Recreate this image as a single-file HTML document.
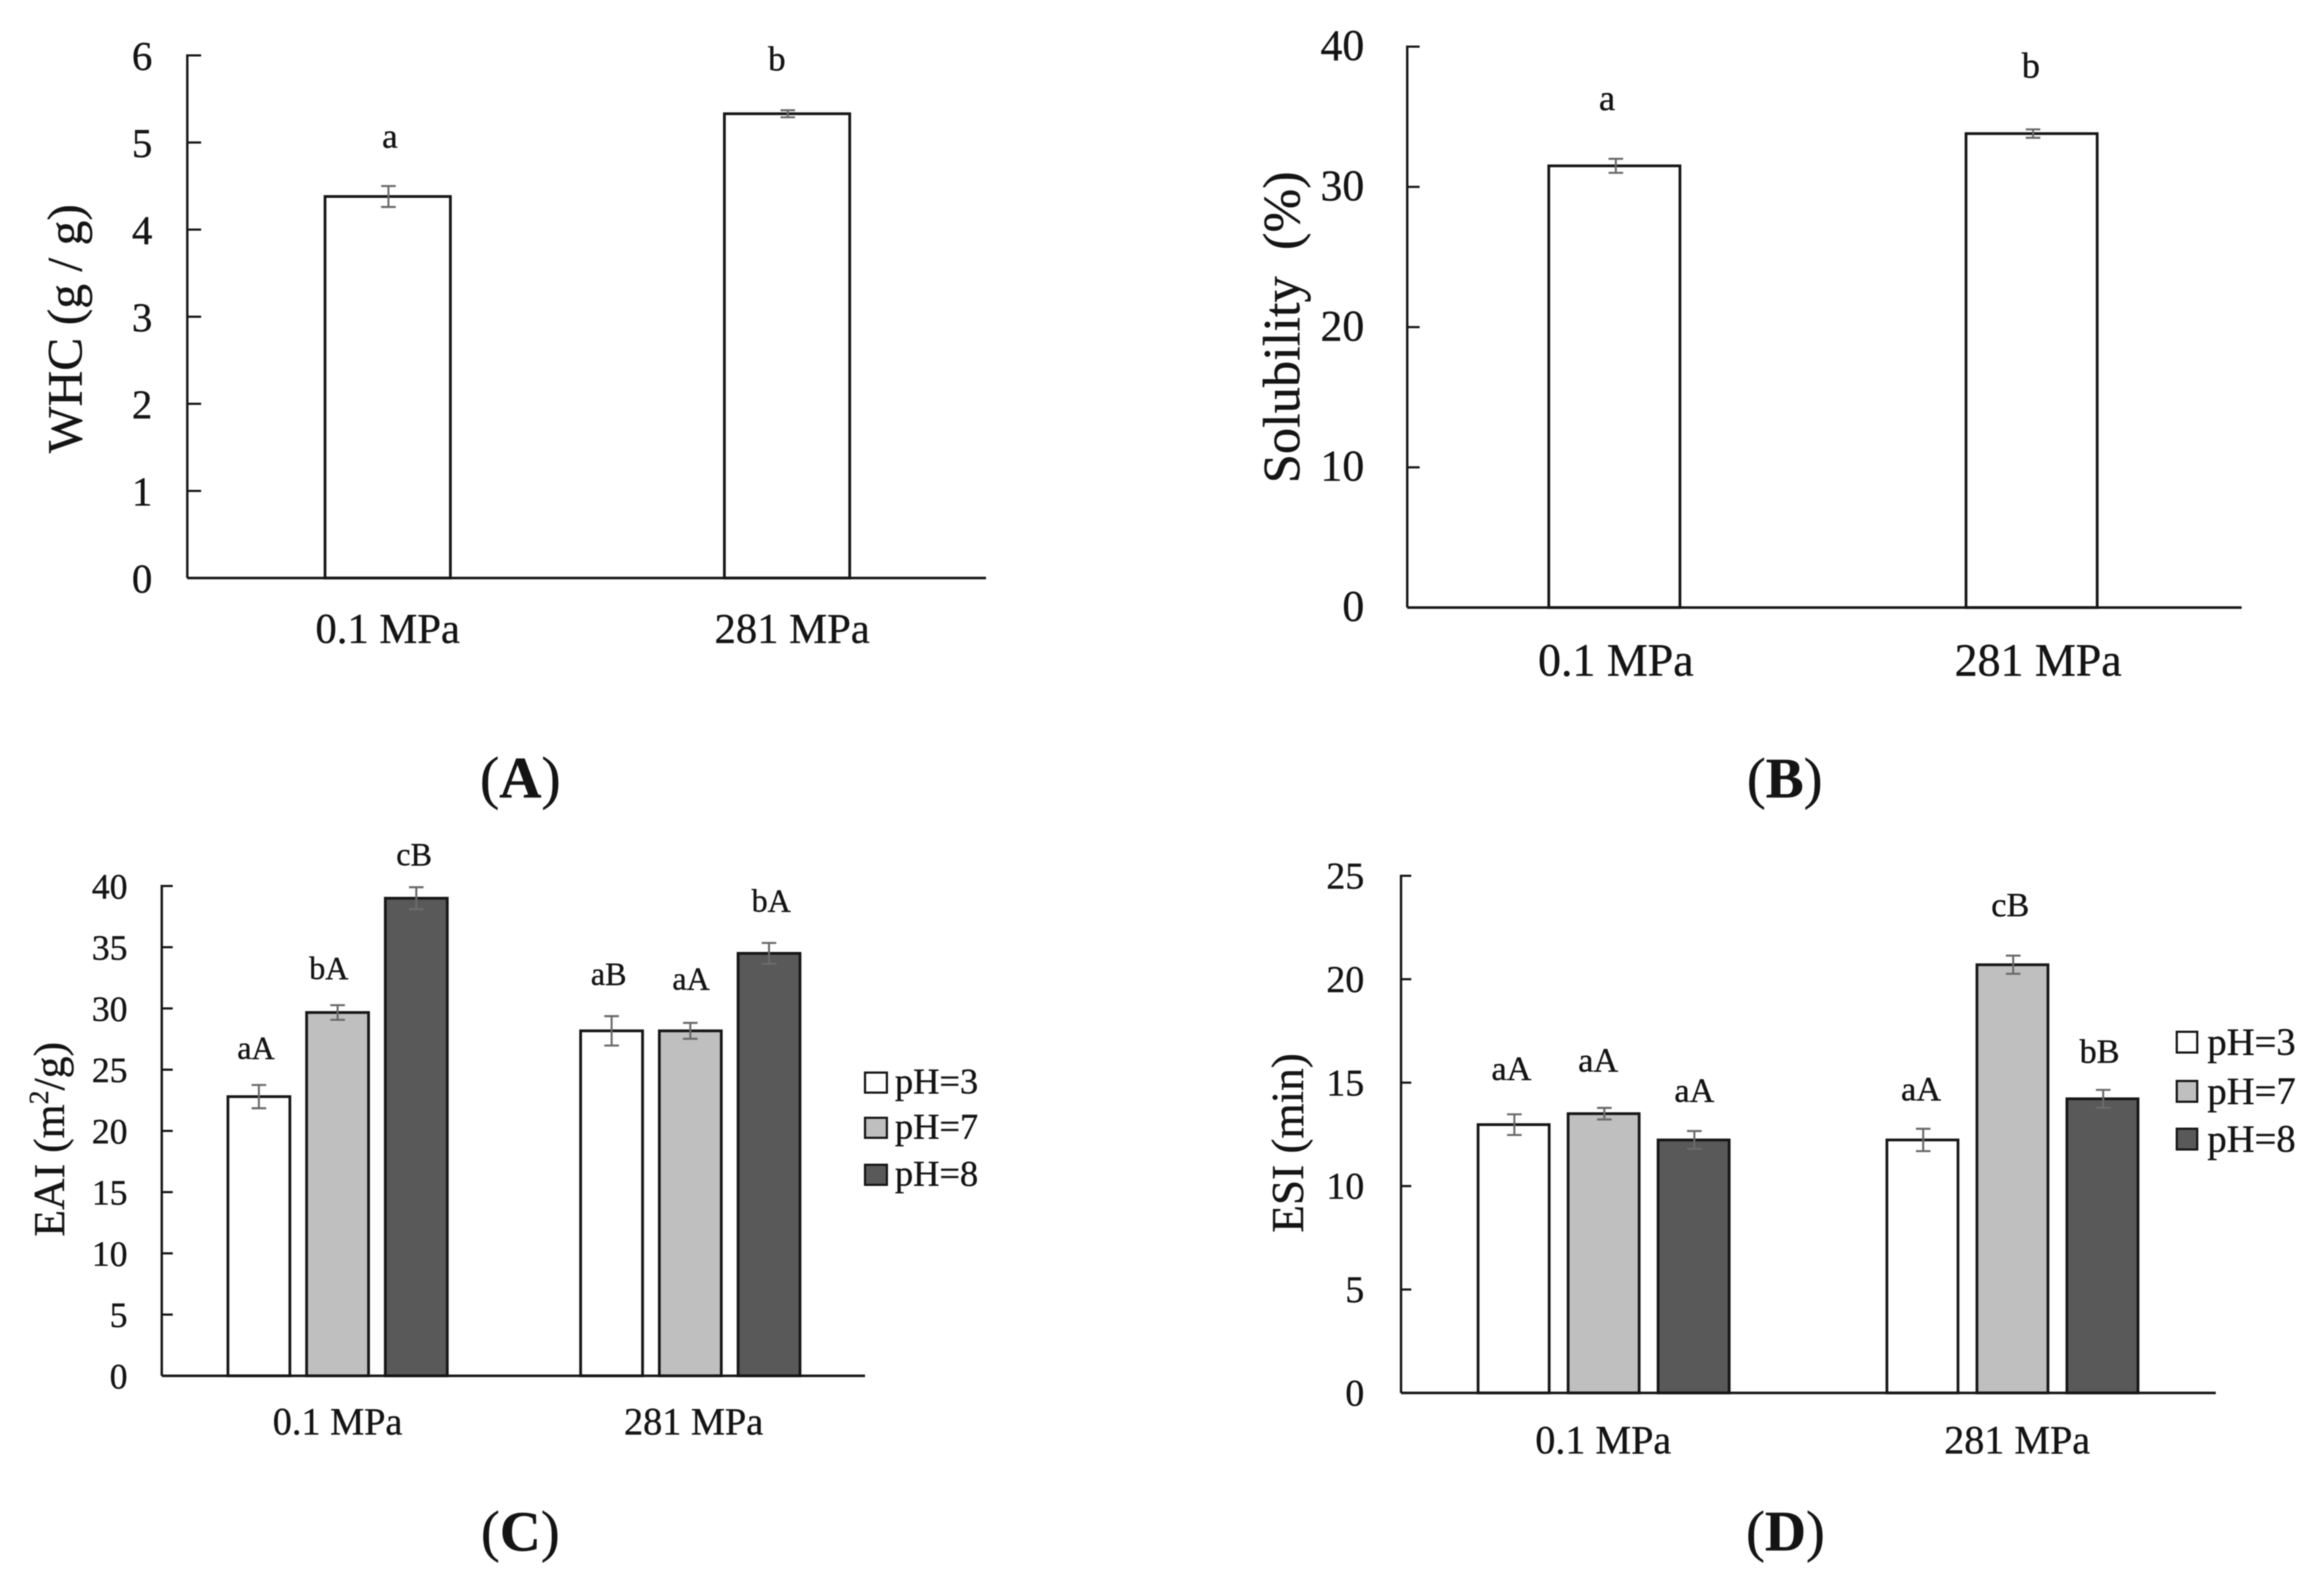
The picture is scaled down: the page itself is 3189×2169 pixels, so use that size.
<!DOCTYPE html>
<html lang="en">
<head>
<meta charset="utf-8">
<title>WHC, Solubility, EAI and ESI bar charts</title>
<style>
  html, body { margin: 0; padding: 0; background: #fff; }
  #figure { display: block; width: 3189px; height: 2169px; filter: blur(0.8px); }
  text { font-family: "Liberation Serif", "Times New Roman", serif; fill: #141414; stroke: #141414; stroke-width: 0.5px; }
</style>
</head>
<body>
<svg id="figure" xmlns="http://www.w3.org/2000/svg" width="3189" height="2169" viewBox="0 0 3189 2169">
  <rect x="0" y="0" width="3189" height="2169" fill="#ffffff"></rect>

  <g id="panel-a">
    <text transform="translate(112 451) rotate(-90)" text-anchor="middle" font-size="68">WHC (g / g)</text>
  </g>
  <g id="panel-b">
    <text transform="translate(1783 449) rotate(-90)" text-anchor="middle" font-size="72" xml:space="preserve">Solubility  (%)</text>
  </g>
  <g id="panel-c">
    <text transform="translate(88 1563) rotate(-90)" text-anchor="middle" font-size="60">EAI (m<tspan font-size="38" dy="-22">2</tspan><tspan dy="22">/g)</tspan></text>
  </g>
  <g id="panel-d">
    <text transform="translate(1788 1568) rotate(-90)" text-anchor="middle" font-size="62">ESI (min)</text>
  </g>

  <text x="714" y="1094" text-anchor="middle" font-size="80">(<tspan font-weight="bold">A</tspan>)</text>
  <text x="2449" y="1094" text-anchor="middle" font-size="78">(<tspan font-weight="bold">B</tspan>)</text>
  <text x="714" y="2127" text-anchor="middle" font-size="78">(<tspan font-weight="bold">C</tspan>)</text>
  <text x="2450" y="2127" text-anchor="middle" font-size="78">(<tspan font-weight="bold">D</tspan>)</text>
</svg>

<script>
// ---- Chart data ----
const pressureCategories = ['0.1 MPa', '281 MPa'];
const phSeriesNames = ['pH=3', 'pH=7', 'pH=8'];

const whcTicks = [0, 1, 2, 3, 4, 5, 6];
const whcValues = [[4.38, 5.33]];
const whcErrors = [[0.12, 0.04]];
const whcLetters = [['a', 'b']];

const solubilityTicks = [0, 10, 20, 30, 40];
const solubilityValues = [[31.5, 33.8]];
const solubilityErrors = [[0.5, 0.3]];
const solubilityLetters = [['a', 'b']];

const eaiTicks = [0, 5, 10, 15, 20, 25, 30, 35, 40];
const eaiPh3Values = [22.8, 28.17];
const eaiPh7Values = [29.67, 28.17];
const eaiPh8Values = [39.0, 34.5];
const eaiPh3Errors = [0.95, 1.2];
const eaiPh7Errors = [0.6, 0.65];
const eaiPh8Errors = [0.9, 0.85];
const eaiPh3Letters = ['aA', 'aB'];
const eaiPh7Letters = ['bA', 'aA'];
const eaiPh8Letters = ['cB', 'bA'];

const esiTicks = [0, 5, 10, 15, 20, 25];
const esiPh3Values = [12.97, 12.23];
const esiPh7Values = [13.5, 20.7];
const esiPh8Values = [12.23, 14.22];
const esiPh3Errors = [0.5, 0.54];
const esiPh7Errors = [0.28, 0.44];
const esiPh8Errors = [0.43, 0.43];
const esiPh3Letters = ['aA', 'aA'];
const esiPh7Letters = ['aA', 'cB'];
const esiPh8Letters = ['aA', 'bB'];

// ---- Rendering ----
const SVG_NS = 'http://www.w3.org/2000/svg';
const BAR_FILLS = ['#ffffff', '#bfbfbf', '#595959'];
const INK = '#161616';
const ERR_INK = '#6a6a6a';

function make(tag, attrs, parent, content) {
  const node = document.createElementNS(SVG_NS, tag);
  Object.keys(attrs).forEach(function (k) { node.setAttribute(k, attrs[k]); });
  if (content !== undefined) node.textContent = content;
  parent.appendChild(node);
  return node;
}

function drawPanel(panelId, cfg) {
  const root = document.getElementById(panelId);
  const yMax = cfg.ticks[cfg.ticks.length - 1];
  const yScale = function (v) { return cfg.y0 - (v / yMax) * (cfg.y0 - cfg.yTop); };
  const nCats = pressureCategories.length;
  const nSeries = cfg.values.length;
  const band = (cfg.right - cfg.left) / nCats;
  const groupCenter = function (c) { return cfg.left + band * (c + 0.5); };
  const xCenter = function (c, s) {
    return groupCenter(c) + (s - (nSeries - 1) / 2) * cfg.step + cfg.groupDx[c];
  };

  // bars, error bars, significance letters
  cfg.values.forEach(function (series, s) {
    series.forEach(function (value, c) {
      const cx = xCenter(c, s);
      const top = yScale(value);
      const bar = make('rect', {
        x: cx - cfg.barW / 2, y: top, width: cfg.barW, height: cfg.y0 - top,
        fill: BAR_FILLS[s], stroke: INK, 'stroke-width': 3.8
      }, root);
      
      

      const err = cfg.errors[s][c];
      const errX = cx + cfg.errDx;
      const hi = yScale(value + err);
      const lo = yScale(value - err);
      const d = 'M' + errX + ' ' + hi + 'V' + lo +
        'M' + (errX - cfg.cap) + ' ' + hi + 'H' + (errX + cfg.cap) +
        'M' + (errX - cfg.cap) + ' ' + lo + 'H' + (errX + cfg.cap);
      const whisker = make('path', { d: d, fill: 'none', stroke: ERR_INK, 'stroke-width': 2.8 }, root);
      
      

      const letter = make('text', {
        x: cx + cfg.letterDx[s][c],
        y: hi - cfg.letterGap[s][c],
        'text-anchor': 'middle',
        'font-size': cfg.letterSize
      }, root, cfg.letters[s][c]);
      
      
    });
  });

  // axes
  const yAxis = make('line', { x1: cfg.left, y1: cfg.yTop - 1.5, x2: cfg.left, y2: cfg.y0, stroke: INK, 'stroke-width': 3.3 }, root);
  
  
  const xAxis = make('line', { x1: cfg.left, y1: cfg.y0, x2: cfg.right, y2: cfg.y0, stroke: INK, 'stroke-width': 3.5 }, root);
  
  

  cfg.ticks.forEach(function (t) {
    const ty = yScale(t);
    const tick = make('line', { x1: cfg.left, y1: ty, x2: cfg.left + cfg.tickLen, y2: ty, stroke: INK, 'stroke-width': 3 }, root);
    
    
    const label = make('text', {
      x: cfg.tickRight, y: ty + cfg.tickBaseline, 'text-anchor': 'end', 'font-size': cfg.tickSize
    }, root, String(t));
    
    
  });

  pressureCategories.forEach(function (name, c) {
    const label = make('text', {
      x: groupCenter(c) + cfg.catDx[c], y: cfg.catBaseline, 'text-anchor': 'middle', 'font-size': cfg.catSize
    }, root, name);
    
    
  });

  // legend
  if (cfg.legend) {
    phSeriesNames.forEach(function (name, s) {
      const lg = cfg.legend;
      const swatch = make('rect', {
        x: lg.x, y: lg.rows[s], width: lg.w, height: lg.h,
        fill: BAR_FILLS[s], stroke: INK, 'stroke-width': 3
      }, root);
      
      
      const text = make('text', {
        x: lg.textX, y: lg.rows[s] + lg.h + lg.textDy, 'font-size': lg.size
      }, root, name);
      
      
    });
  }
}

drawPanel('panel-a', {
  ticks: whcTicks, values: whcValues, errors: whcErrors, letters: whcLetters,
  left: 257, right: 1353, y0: 793, yTop: 76, step: 0, barW: 172, groupDx: [1, 1], errDx: 1, cap: 10,
  tickLen: 19, tickRight: 209, tickBaseline: 20, tickSize: 56,
  catDx: [1, 8], catBaseline: 882, catSize: 58.5,
  letterSize: 48, letterDx: [[3, -14]], letterGap: [[53, 55]]
});

drawPanel('panel-b', {
  ticks: solubilityTicks, values: solubilityValues, errors: solubilityErrors, letters: solubilityLetters,
  left: 1931, right: 3076, y0: 833.5, yTop: 64, step: 0, barW: 180, groupDx: [-2, -2], errDx: 2, cap: 10,
  tickLen: 17, tickRight: 1872, tickBaseline: 18.5, tickSize: 60,
  catDx: [0, 7], catBaseline: 927, catSize: 63,
  letterSize: 50, letterDx: [[-10, -1]], letterGap: [[67, 71]]
});

drawPanel('panel-c', {
  ticks: eaiTicks,
  values: [eaiPh3Values, eaiPh7Values, eaiPh8Values],
  errors: [eaiPh3Errors, eaiPh7Errors, eaiPh8Errors],
  letters: [eaiPh3Letters, eaiPh7Letters, eaiPh8Letters],
  left: 222, right: 1187, y0: 1887.5, yTop: 1215.5, step: 108, barW: 85, groupDx: [0, 1.5], errDx: 0, cap: 10,
  tickLen: 15, tickRight: 175, tickBaseline: 17, tickSize: 49,
  catDx: [0, 6], catBaseline: 1968, catSize: 52.5,
  letterSize: 44,
  letterDx: [[-4, -4], [-12, 1], [-3, 3]],
  letterGap: [[36, 43], [36, 46], [30, 43]],
  legend: { x: 1187, w: 30, h: 27.5, rows: [1471.5, 1533.5, 1598], textX: 1228, textDy: 1, size: 50 }
});

drawPanel('panel-d', {
  ticks: esiTicks,
  values: [esiPh3Values, esiPh7Values, esiPh8Values],
  errors: [esiPh3Errors, esiPh7Errors, esiPh8Errors],
  letters: [esiPh3Letters, esiPh7Letters, esiPh8Letters],
  left: 1922.5, right: 3040.5, y0: 1911, yTop: 1201.5, step: 123.5, barW: 97.5, groupDx: [-1.5, 0.5], errDx: 1, cap: 10,
  tickLen: 14, tickRight: 1872, tickBaseline: 17.5, tickSize: 52,
  catDx: [-2, 7], catBaseline: 1994, catSize: 55,
  letterSize: 47,
  letterDx: [[-3, -2], [-7.5, -3], [1, -4]],
  letterGap: [[47, 39], [50, 54], [40, 37]],
  legend: { x: 2987, w: 28, h: 28.5, rows: [1415.5, 1483, 1548.5], textX: 3029, textDy: 3, size: 53 }
});
</script>
</body>
</html>
